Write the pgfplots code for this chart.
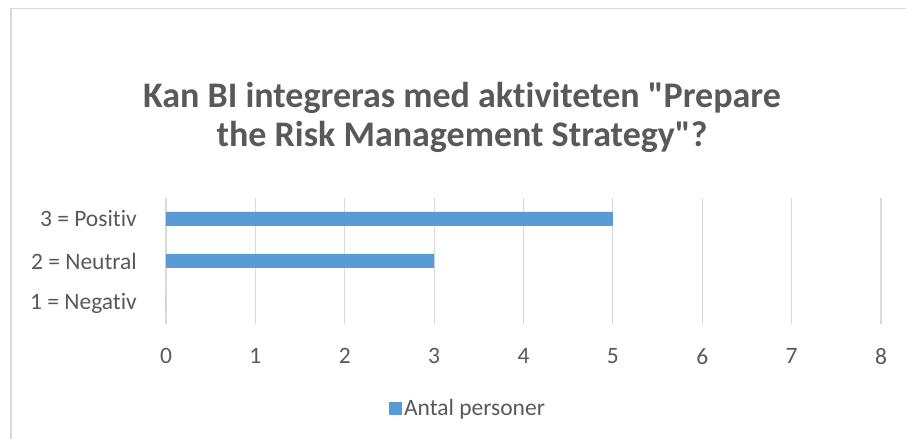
\documentclass[border=0pt]{standalone}
\usepackage{pgfplots}
\pgfplotsset{compat=1.18}
\usepackage{fontspec}
\setmainfont{Carlito}[Ligatures={TeXOff,CommonOff}]
\definecolor{txt}{HTML}{595959}
\definecolor{barblue}{HTML}{5B9BD5}
\definecolor{gridc}{HTML}{D9D9D9}
\begin{document}
\begin{tikzpicture}[x=1pt,y=1pt]
\useasboundingbox (0,0) rectangle (906,439);
\draw[gridc, line width=1.5pt] (11,0) -- (11,430.5) -- (906,430.5);
\node[anchor=base, text=txt, font=\fontsize{36}{42}\selectfont\bfseries, inner sep=0pt] at (462,331) {Kan BI integreras med aktiviteten "Prepare};
\node[anchor=base, text=txt, font=\fontsize{36}{42}\selectfont\bfseries, inner sep=0pt] at (462,292) {the Risk Management Strategy"?};
\begin{axis}[
  at={(166pt,115pt)}, anchor=south west,
  scale only axis, width=715pt, height=126pt,
  xbar, bar width=14pt,
  xmin=0, xmax=8, ymin=0.5, ymax=3.5,
  xtick={0,1,...,8}, ytick={1,2,3},
  yticklabels={1 = Negativ, 2 = Neutral, 3 = Positiv},
  axis line style={draw=none},
  major tick length=0pt,
  xmajorgrids, grid style={gridc, line width=1.2pt},
  /pgf/number format/assume math mode=true,
  tick label style={text=txt, font=\fontsize{23.5}{28}\selectfont, inner sep=0pt},
  yticklabel style={anchor=east, xshift=-29pt},
  xticklabel style={anchor=north, yshift=-24pt},
  legend style={draw=none, fill=none, at={(0.4224,-0.667)}, anchor=center,
    font=\fontsize{23.5}{28}\selectfont, text=txt, inner sep=0pt,
    /tikz/every even column/.append style={column sep=0pt}},
  legend image code/.code={\fill[barblue] (-2pt,-6.5pt) rectangle (11pt,6.5pt);},
]
\addplot[fill=barblue, draw=none] coordinates {(0,1) (3,2) (5,3)};
\addlegendentry{Antal personer}
\end{axis}
\end{tikzpicture}
\end{document}
